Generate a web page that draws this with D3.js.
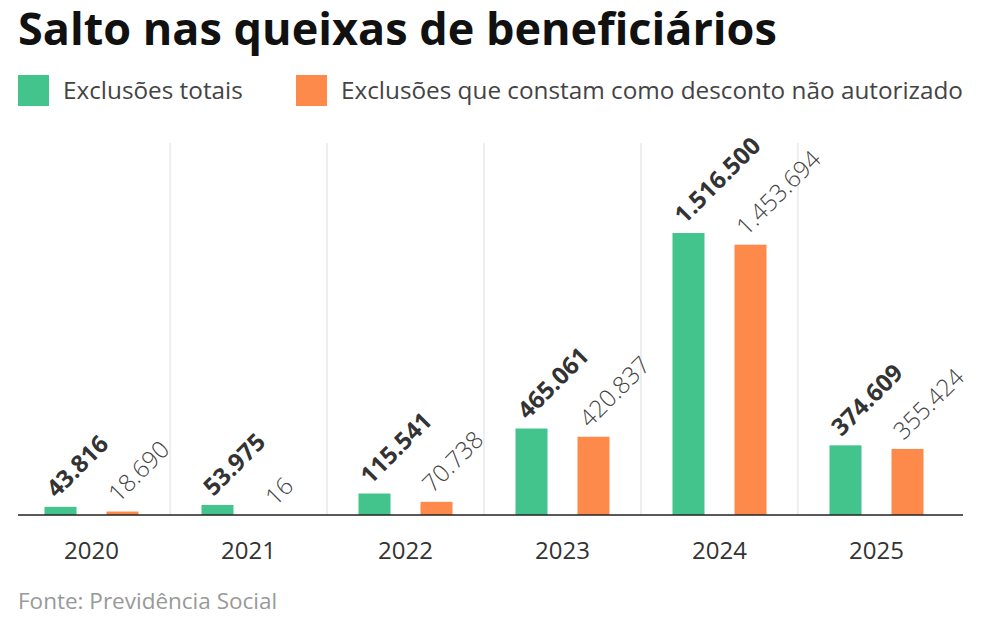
<!DOCTYPE html>
<html><head><meta charset="utf-8">
<script src="https://cdn.jsdelivr.net/npm/d3@7"></script>
<style>body{margin:0;background:#fff;font-family:'Open Sans',sans-serif}</style>
</head><body>
<script>
const years = ['2020','2021','2022','2023','2024','2025'];
const totals = [43816, 53975, 115541, 465061, 1516500, 374609];
const unauthorized = [18690, 16, 70738, 420837, 1453694, 355424];
const seriesNames = ['Exclusões totais', 'Exclusões que constam como desconto não autorizado'];
const colors = ['#43c48c', '#fd8a4b'];

const W = 984, H = 621, base = 515;
const svg = d3.select('body').append('svg').attr('width', W).attr('height', H);
const fmt = d3.formatLocale({decimal: ',', thousands: '.', grouping: [3], currency: ['', '']}).format(',');

svg.append('text').attr('x', 18).attr('y', 45)
  .style('font-size', '45px').style('font-weight', 700).attr('fill', '#111')
  .text('Salto nas queixas de beneficiários');

// legend
const lx = [18, 296];
seriesNames.forEach((n, i) => {
  svg.append('rect').attr('x', lx[i]).attr('y', 75).attr('width', 31).attr('height', 31).attr('fill', colors[i]);
  svg.append('text').attr('x', lx[i] + 45).attr('y', 99).style('font-size', '24.3px').attr('fill', '#444').text(n);
});

const x = d3.scaleBand().domain(years).range([13, 955]);
const y = d3.scaleLinear().domain([0, 1516500]).range([base, 233]);
const bw = 32;

// separators
years.slice(1).forEach(yr => {
  svg.append('line').attr('x1', x(yr)).attr('x2', x(yr)).attr('y1', 143).attr('y2', base)
    .attr('stroke', '#ddd').attr('stroke-width', 1);
});

const series = [totals, unauthorized];
series.forEach((vals, s) => {
  years.forEach((yr, i) => {
    const cx = x(yr) + x.bandwidth() / 2;
    const bx = s === 0 ? cx - 47 : cx + 15;
    const v = vals[i];
    svg.append('rect').attr('x', bx).attr('y', y(v)).attr('width', bw).attr('height', base - y(v))
      .attr('fill', colors[s]);
    const tx = bx + 12, ty = y(v) - 8;
    svg.append('text').attr('transform', `translate(${tx},${ty}) rotate(-45)`)
      .style('font-size', '24px').style('font-weight', s === 0 ? 700 : 300)
      .attr('fill', s === 0 ? '#333' : '#444').text(fmt(v));
  });
});

svg.append('line').attr('x1', 18).attr('x2', 963).attr('y1', base).attr('y2', base)
  .attr('stroke', '#222').attr('stroke-width', 1.5);

years.forEach(yr => {
  svg.append('text').attr('x', x(yr) + x.bandwidth() / 2).attr('y', 559).attr('text-anchor', 'middle')
    .style('font-size', '24px').attr('fill', '#333').text(yr);
});

svg.append('text').attr('x', 18).attr('y', 609).style('font-size', '22.5px').attr('fill', '#999')
  .text('Fonte: Previdência Social');
</script>
</body></html>
